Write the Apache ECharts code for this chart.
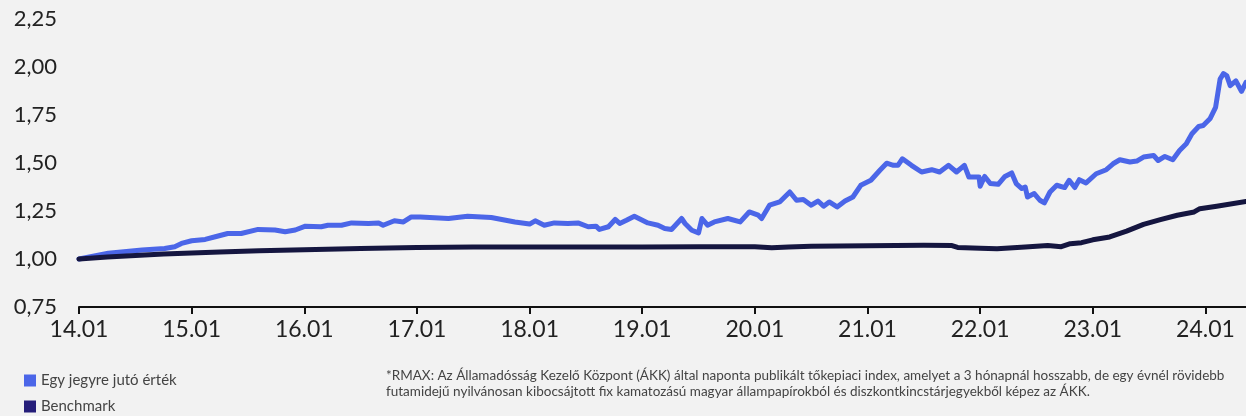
<!DOCTYPE html>
<html>
<head>
<meta charset="utf-8">
<script src="https://cdn.jsdelivr.net/npm/echarts@6/dist/echarts.min.js"></script>
<style>
html,body{margin:0;padding:0;background:#f2f2f2;}
#c{width:1246px;height:416px;}
</style>
</head>
<body>
<div id="c"></div>
<script>
// Time is given in decimal years since 2000 (14.00 = January 2014)
const fundTimes = [14.00,14.26,14.56,14.76,14.85,14.91,15.00,15.12,15.21,15.32,15.44,15.59,15.74,15.83,15.92,16.01,16.15,16.21,16.33,16.42,16.57,16.66,16.70,16.80,16.88,16.95,17.03,17.28,17.45,17.66,17.87,18.00,18.05,18.13,18.22,18.34,18.43,18.52,18.59,18.62,18.70,18.76,18.80,18.86,18.93,19.05,19.14,19.20,19.26,19.35,19.38,19.44,19.50,19.53,19.58,19.64,19.76,19.87,19.95,20.03,20.06,20.13,20.22,20.31,20.37,20.43,20.50,20.56,20.61,20.66,20.73,20.80,20.87,20.94,21.03,21.11,21.17,21.23,21.27,21.31,21.39,21.48,21.57,21.64,21.72,21.79,21.86,21.90,21.99,22.00,22.04,22.09,22.16,22.22,22.28,22.32,22.37,22.40,22.42,22.48,22.53,22.57,22.62,22.68,22.75,22.79,22.84,22.88,22.94,23.03,23.12,23.18,23.24,23.33,23.39,23.45,23.54,23.58,23.64,23.71,23.77,23.83,23.88,23.94,23.98,24.04,24.09,24.13,24.16,24.19,24.22,24.27,24.32,24.36];
const fundValues = [1.000,1.030,1.047,1.055,1.064,1.081,1.095,1.102,1.116,1.133,1.133,1.154,1.151,1.142,1.151,1.171,1.168,1.176,1.176,1.188,1.185,1.188,1.176,1.199,1.193,1.219,1.219,1.211,1.223,1.216,1.193,1.182,1.199,1.176,1.188,1.185,1.188,1.168,1.171,1.154,1.168,1.206,1.185,1.202,1.223,1.188,1.176,1.159,1.154,1.211,1.185,1.150,1.136,1.211,1.176,1.193,1.211,1.193,1.245,1.228,1.211,1.280,1.297,1.349,1.306,1.310,1.280,1.302,1.275,1.297,1.271,1.302,1.323,1.384,1.410,1.462,1.499,1.488,1.488,1.522,1.488,1.453,1.465,1.453,1.488,1.453,1.488,1.427,1.427,1.379,1.430,1.393,1.389,1.430,1.448,1.393,1.367,1.375,1.323,1.341,1.306,1.292,1.349,1.384,1.372,1.410,1.372,1.413,1.396,1.444,1.465,1.496,1.517,1.505,1.510,1.531,1.539,1.513,1.534,1.517,1.565,1.600,1.652,1.690,1.695,1.730,1.790,1.937,1.966,1.954,1.903,1.928,1.873,1.920];

const benchTimes = [14.00,14.25,14.50,14.75,15.00,15.25,15.60,16.00,16.50,17.00,17.50,18.00,18.50,19.00,19.50,20.00,20.15,20.30,20.50,21.00,21.50,21.75,21.80,22.00,22.15,22.40,22.60,22.72,22.80,22.90,23.00,23.15,23.30,23.45,23.60,23.75,23.90,23.95,24.10,24.36];
const benchValues = [1.000,1.010,1.018,1.026,1.031,1.036,1.043,1.048,1.055,1.060,1.062,1.062,1.062,1.063,1.064,1.064,1.058,1.062,1.067,1.069,1.071,1.070,1.060,1.056,1.053,1.062,1.070,1.064,1.080,1.085,1.100,1.115,1.145,1.180,1.205,1.228,1.245,1.262,1.275,1.300];

const yTicks = {min: 0.75, max: 2.25, step: 0.25};
const xRange = {min: 14, max: 24.36, step: 1};

const seriesNames = ['Egy jegyre jutó érték', 'Benchmark'];
const legendColors = ['#4b66e8', '#251e7a'];
const lineColors = ['#4b66e8', '#151640'];
const footnote = ['*RMAX: Az Államadósság Kezelő Központ (ÁKK) által naponta publikált tőkepiaci index, amelyet a 3 hónapnál hosszabb, de egy évnél rövidebb',
                  'futamidejű nyilvánosan kibocsájtott fix kamatozású magyar állampapírokból és diszkontkincstárjegyekből képez az ÁKK.'];

const fundData = fundTimes.map((t, i) => [t, fundValues[i]]);
const benchData = benchTimes.map((t, i) => [t, benchValues[i]]);

const chart = echarts.init(document.getElementById('c'));
const FONT = 'Lato';
const legendBase = {
  left: 24, itemWidth: 12, itemHeight: 12, icon: 'rect', padding: 0,
  textStyle: {color: '#444', fontSize: 15, fontFamily: FONT}
};
chart.setOption({
  backgroundColor: '#f2f2f2',
  animation: false,
  textStyle: {fontFamily: FONT},
  grid: {left: 79, right: 0, top: 19, bottom: 109, containLabel: false},
  xAxis: {
    type: 'value',
    min: xRange.min, max: xRange.max, interval: xRange.step,
    axisLine: {show: true, lineStyle: {color: '#111', width: 2}},
    axisTick: {show: true, length: 7, lineStyle: {color: '#111', width: 2}},
    splitLine: {show: false},
    axisLabel: {
      showMaxLabel: false,
      color: '#222', fontSize: 23, fontFamily: FONT, margin: 11,
      formatter: v => Number.isInteger(v) ? v + '.01' : ''
    }
  },
  yAxis: {
    type: 'value',
    min: yTicks.min, max: yTicks.max, interval: yTicks.step,
    axisLine: {show: false}, axisTick: {show: false}, splitLine: {show: false},
    axisLabel: {
      color: '#222', fontSize: 22, fontFamily: FONT, margin: 22,
      formatter: v => v.toFixed(2).replace('.', ',')
    }
  },
  legend: [
    Object.assign({}, legendBase, {top: 373, data: [{name: seriesNames[0], itemStyle: {color: legendColors[0]}}]}),
    Object.assign({}, legendBase, {top: 399, data: [{name: seriesNames[1], itemStyle: {color: legendColors[1]}}]})
  ],
  graphic: [{
    type: 'text', left: 386, top: 368,
    style: {text: footnote.join('\n'), fill: '#444', font: '13.5px Lato', lineHeight: 16}
  }],
  series: [
    {name: seriesNames[0], type: 'line', data: fundData, showSymbol: false,
     lineStyle: {color: lineColors[0], width: 5, cap: 'round', join: 'round'}, itemStyle: {color: lineColors[0]}},
    {name: seriesNames[1], type: 'line', data: benchData, showSymbol: false,
     lineStyle: {color: lineColors[1], width: 5, cap: 'round', join: 'round'}, itemStyle: {color: lineColors[1]}}
  ]
});
</script>
</body>
</html>
